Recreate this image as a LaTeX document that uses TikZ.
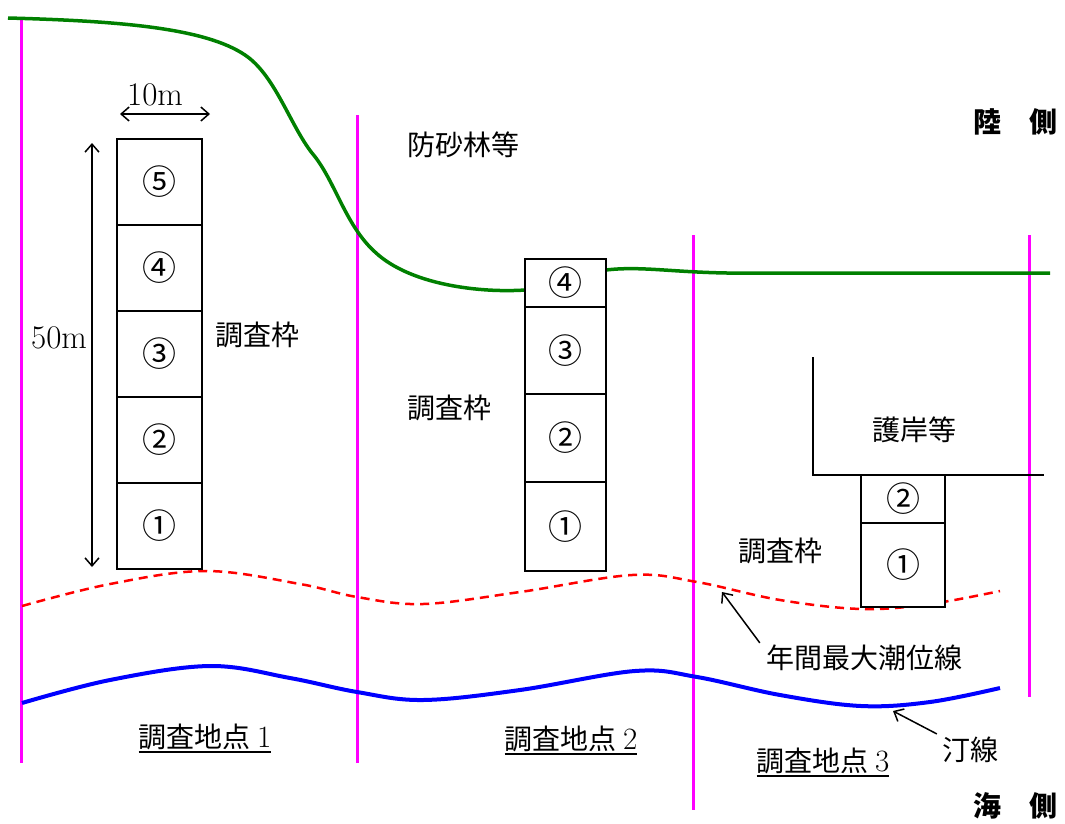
\documentclass[tikz,border=0pt]{standalone}
\usepackage{fontspec}
\newfontfamily\cjk{Noto Sans CJK JP}
\usetikzlibrary{arrows.meta,calc}
\definecolor{mag}{RGB}{255,0,255}
\definecolor{grn}{RGB}{0,128,0}
\definecolor{blu}{RGB}{0,0,255}
\definecolor{rd}{RGB}{255,0,0}
\tikzset{
  site/.style={draw=mag, line width=3pt},
  cell/.style={draw, line width=2pt, fill=white, inner sep=0pt, font=\cjk\fontsize{34}{36}\selectfont},
  jp/.style={inner sep=0pt, font=\cjk\fontsize{28}{30}\selectfont},
  jpb/.style={inner sep=0pt, font=\cjk\bfseries\fontsize{28}{30}\selectfont},
  lat/.style={inner sep=0pt, font=\fontsize{33}{35}\selectfont},
  arr/.style={line width=1.5pt, -{Straight Barb[length=8pt,width=14pt,line width=1.5pt]}},
  darr/.style={line width=1.5pt, {Straight Barb[length=8pt,width=14pt,line width=1.5pt]}-{Straight Barb[length=8pt,width=14pt,line width=1.5pt]}},
  uline/.style={line width=2pt}
}
\begin{document}
\begin{tikzpicture}[x=1pt,y=-1pt]
\useasboundingbox[fill=white] (0,0) rectangle (1065,823);

% site boundaries
\draw[site] (21,18) -- (21,763);
\draw[site] (357,115) -- (357,763);
\draw[site] (693,235) -- (693,810);
\draw[site] (1029,235) -- (1029,697);

% forest edge (green)
\draw[grn, line width=3.5pt] (8,18)
  .. controls (120,21) and (205,28) .. (245,55)
  .. controls (275,75) and (290,125) .. (312,153)
  .. controls (335,180) and (345,225) .. (375,252)
  .. controls (410,285) and (480,293) .. (525,290)
  -- (606,270)
  .. controls (640,266) and (670,272) .. (727,273)
  -- (1050,273);

% annual max tide line (red dashed)
\draw[rd, line width=2.5pt, dash pattern=on 9pt off 6pt] plot[smooth, tension=0.6] coordinates
 {(22,606) (110,584) (206,571) (300,584) (357,597) (423,604) (520,592) (632,575) (697,582) (780,600) (862,609) (930,604) (1000,591)};

% shoreline (blue)
\draw[blu, line width=4pt] plot[smooth, tension=0.6] coordinates
 {(22,703) (110,680) (210,666) (290,678) (357,692) (423,700) (520,690) (635,671) (697,677) (780,695) (861,706) (930,702) (1000,688)};

% revetment
\draw[line width=2pt] (813,357) -- (813,475) -- (1044,475);

% survey frames, site 1
\node[cell, minimum width=85, minimum height=86] (a5) at (159.5,182) {⑤};
\node[cell, minimum width=85, minimum height=86] (a4) at (159.5,268) {④};
\node[cell, minimum width=85, minimum height=86] (a3) at (159.5,354) {③};
\node[cell, minimum width=85, minimum height=86] (a2) at (159.5,440) {②};
\node[cell, minimum width=85, minimum height=86] (a1) at (159.5,526) {①};

% site 2
\node[cell, minimum width=81, minimum height=48] (b4) at (565.5,283) {④};
\node[cell, minimum width=81, minimum height=87] (b3) at (565.5,350.5) {③};
\node[cell, minimum width=81, minimum height=88] (b2) at (565.5,438) {②};
\node[cell, minimum width=81, minimum height=89] (b1) at (565.5,526.5) {①};

% site 3
\node[cell, minimum width=84, minimum height=48] (c2) at (903,499) {②};
\node[cell, minimum width=84, minimum height=84] (c1) at (903,565) {①};

% dimensions
\coordinate (w1) at (120,114);
\coordinate (w2) at (210,114);
\draw[darr] (w1) -- (w2);
\node[lat] (w) at (155,95) {10m};
\coordinate (h1) at (92,567);
\coordinate (h2) at (92,143);
\draw[darr] (h1) -- (h2);
\node[lat, fill=white, inner ysep=3pt] (h) at (59,338) {50m};

% labels
\node[jp] (f1) at (257,335) {調査枠};
\node[jp] (f2) at (449,408) {調査枠};
\node[jp] (f3) at (780,551) {調査枠};
\node[jp] (forest) at (463,145) {防砂林等};
\node[jp] (rev) at (914,430) {護岸等};
\node[jpb] (land) at (1015,122) {陸　側};
\node[jpb] (sea) at (1015,806) {海　側};

\node[jp] (tide) at (864,658) {年間最大潮位線};
\coordinate (tidept) at (722,592);
\draw[arr] ($(tide.north west)+(-6,-2)$) -- (tidept);

\node[jp] (shore) at (970,750) {汀線};
\coordinate (shorept) at (893,711);
\draw[arr] ($(shore.north west)+(-5,-3)$) -- (shorept);

\node[jp] (s1) at (205,737) {調査地点 {\rmfamily\fontsize{31}{33}\selectfont 1}};
\node[jp] (s2) at (571,739) {調査地点 {\rmfamily\fontsize{31}{33}\selectfont 2}};
\node[jp] (s3) at (823,761) {調査地点 {\rmfamily\fontsize{31}{33}\selectfont 3}};
\foreach \s in {s1,s2,s3}
  \draw[uline] ([yshift=-2pt]\s.south west) -- ([yshift=-2pt]\s.south east);
\end{tikzpicture}
\end{document}
